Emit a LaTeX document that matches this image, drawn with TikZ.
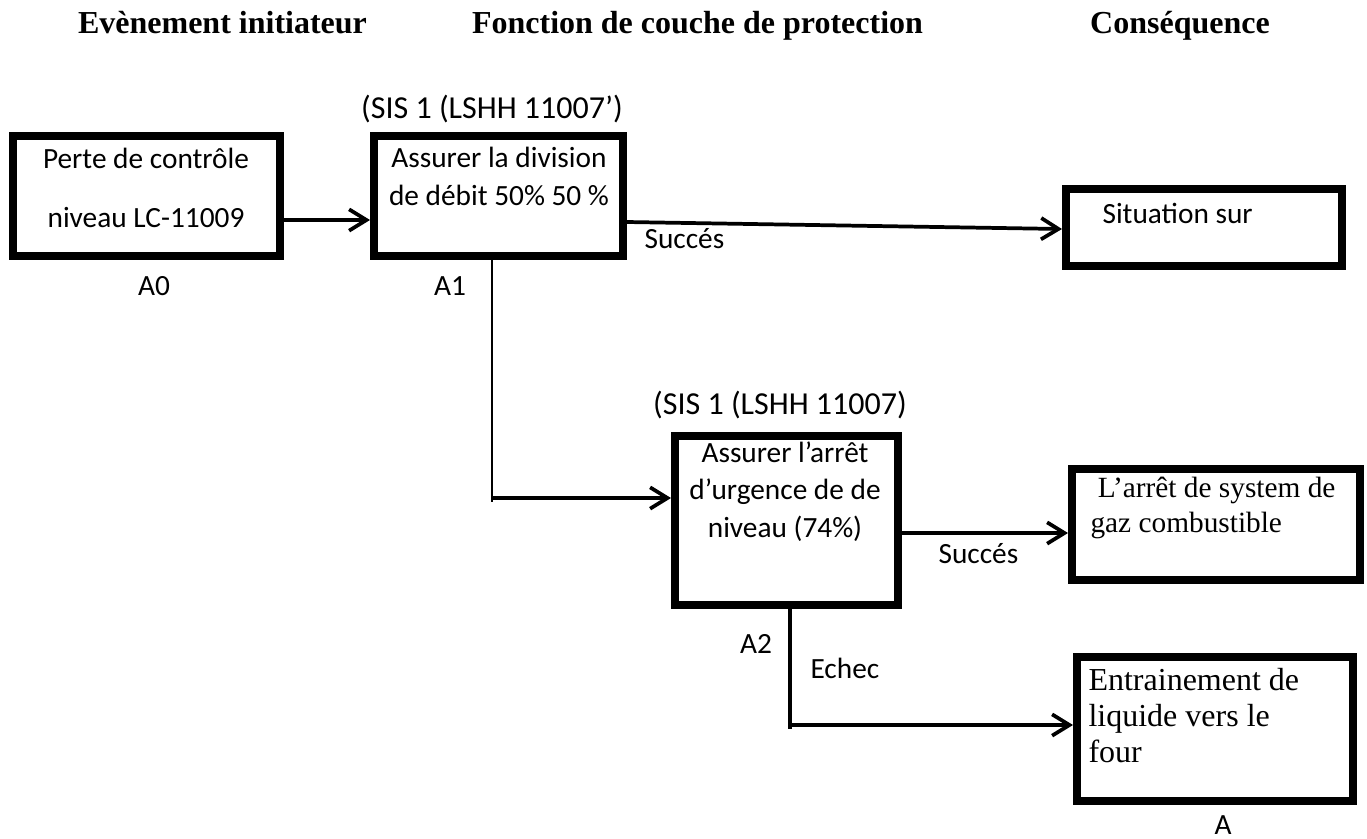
\documentclass[tikz,border=0pt]{standalone}
\usepackage{fontspec}
\setmainfont{Carlito}
\newfontfamily\timesfont{Liberation Serif}
\usetikzlibrary{arrows.meta}
\begin{document}
\begin{tikzpicture}[x=0.375pt,y=-0.375pt,
  box/.style n args={2}{draw=black, line width=3pt, rectangle, inner sep=0pt,
    minimum width={#1*0.375pt}, minimum height={#2*0.375pt}},
  hdr/.style={font=\timesfont\bfseries\fontsize{12}{14}\selectfont, anchor=base, inner sep=0pt},
  lbl/.style={font=\fontsize{11}{13.9}\selectfont, anchor=base, inner sep=0pt},
  sis/.style={font=\fontsize{12}{14}\selectfont, anchor=base, inner sep=0pt},
  serif/.style={font=\timesfont\fontsize{11}{13.1}\selectfont, anchor=base west, align=left, inner sep=0pt},
  conn/.style={draw=black, line width=1.4pt},
  arr/.style={conn, -{Straight Barb[length=6.5pt,width=8pt]}},
]
\useasboundingbox (0,0) rectangle (1367,838);

% column titles
\node[hdr] (h1) at (222.5,33) {Evènement initiateur};
\node[hdr] (h2) at (697.5,33) {Fonction de couche de protection};
\node[hdr] (h3) at (1180,33) {Conséquence};

% boxes
\node[box={267}{120}] (a0) at (146.5,196) {};
\node[box={249}{120}] (a1) at (498.5,196) {};
\node[box={276}{77}]  (s1) at (1204,227.5) {};
\node[box={223}{169}] (a2) at (786.5,520.5) {};
\node[box={288}{111}] (s2) at (1216,524.5) {};
\node[box={276}{144}] (s3) at (1215,729) {};

% box texts (anchored on the baseline of their last line)
\node[lbl, font=\fontsize{11}{22.1}\selectfont, align=center] (a0t) at (146,227) {Perte de contrôle\\niveau LC-11009};
\node[lbl, align=center] (a1t) at (499,205) {Assurer la division\\de débit 50\% 50 \%};
\node[lbl, anchor=base west] (s1t) at (1102,223) {Situation sur};
\node[lbl, align=center] (a2t) at (785,537) {Assurer l’arrêt\\d’urgence de de\\niveau (74\%)};
\node[serif] (s2t) at (1090,532) {\hspace*{0.25em}L’arrêt de system de\\gaz combustible};
\node[serif, font=\timesfont\fontsize{12}{13.5}\selectfont] (s3t) at (1088,762) {Entrainement de\\liquide vers le\\four};

% labels around the boxes
\node[sis] (sis1) at (492,118) {(SIS 1 (LSHH 11007’)};
\node[sis] (sis2) at (780,414) {(SIS 1 (LSHH 11007)};
\node[lbl] (l0) at (154,295) {A0};
\node[lbl] (l1) at (450,295) {A1};
\node[lbl] (l2) at (756,653) {A2};
\node[lbl] (l3) at (1223,834) {A};
\node[lbl, anchor=base west] (ok1) at (644,248) {Succés};
\node[lbl, anchor=base west] (ok2) at (938,563) {Succés};
\node[lbl, anchor=base west] (ko) at (810,678) {Echec};

% branch points
\coordinate (k1) at (492,498);
\coordinate (k2) at (790,725);

% connectors
\draw[arr] (a0.east |- 0,220) -- (a1.west |- 0,220);
\draw[arr] (a1.east |- 0,222) -- (s1.west |- 0,229);
\draw[conn, line width=1.1pt] (a1.south -| k1) -- ([yshift=-1.5pt]k1);
\draw[arr] (k1) -- (a2.west |- k1);
\draw[arr] (a2.east |- 0,533) -- (s2.west |- 0,533);
\draw[conn] (a2.south -| k2) -- ([yshift=-1.5pt]k2);
\draw[arr] (k2) -- (s3.west |- k2);
\end{tikzpicture}
\end{document}
